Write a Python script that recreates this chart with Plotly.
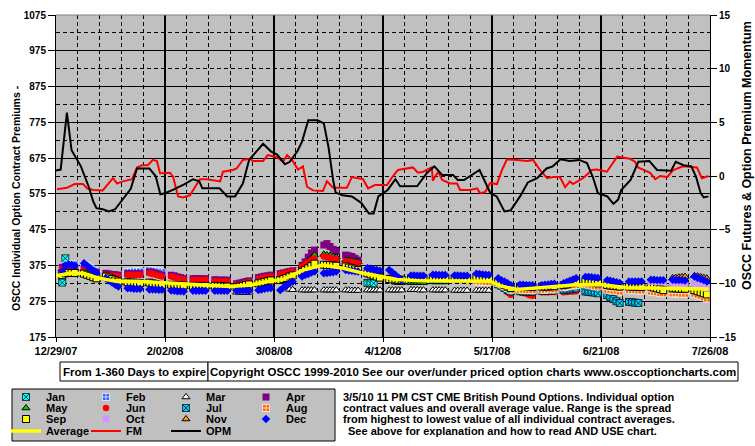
import numpy as np
import pandas as pd
import plotly.graph_objects as go

_ = None
START = pd.Timestamp("2007-12-29")
trade_dates = pd.bdate_range("2007-12-31", "2008-07-25")  # 150 trading days (30 weeks)

# ---------------- contract month premiums (left axis), one value per trading day ----------------
jan = [327, 395, _, _, _] + [_] * 65 + [326, 325, 325, _, _] + [_] * 75

feb = [370, 375, 377, 378, 378,
       376, 372, 368, 363, 358,
       350, 348, 346, 344, 343,
       357, 357, 358, 358, 358,
       362, 361, 360, 358, 356,
       348, 346, _, _, _] + [_] * 120

mar = [366, 368, 368, 367, 366,
       349, 346, 343, 339, 336,
       341, 338, 334, 330, 327,
       325, 324, 324, 323, 323,
       324, 322, 320, 318, 317,
       318, 317, 317, 316, 316,
       315, 315, 314, 314, 315,
       315, 314, 314, 313, 313,
       300, 300, 299, 299, 300,
       322, 324, 326, 328, 330,
       _, _, _, 308, 307,
       306, 306, 306, 306, 306,
       306, 306, 306, 306, 306,
       306, 306, 305, 305, 305,
       306, 306, 306, 306, 306,
       306, 306, 306, 306, 306,
       307, 307, 307, 306, 306,
       306, 306, 306, 306, 306,
       305, 305, 305, 305, 305,
       305, 305, 305, 305, 305,
       326, 324, _, _, _] + [_] * 45

apr = [370, 371, 371, 370, 370,
       366, 364, 361, 358, 356,
       353, 351, 350, 349, 348,
       352, 352, 352, 352, 352,
       357, 355, 353, 350, 348,
       348, 346, 343, 341, 338,
       338, 338, 338, 338, 338,
       335, 334, 334, 334, 334,
       324, 326, 328, 330, 332,
       341, 343, 345, 346, 348,
       352, 354, 356, 358, 360,
       375, 385, 398, 410, 418,
       432, 436, 428, 420, 414,
       404, 402, 400, 395, 390] + [_] * 80

may = [_] * 55 + [374, 380, 388, 396, 404,
                  406, 404, 402, 400, 398,
                  390, 389, 388, 386, 385] + [_] * 5 + [_, _, 328, 327, 327,
                                                        327, 327, 327, 327, 327,
                                                        329, 329, 329, 329, 329] + [_] * 60

jun = [366, 367, 367, 366, 366,
       362, 360, 357, 354, 352,
       348, 347, 346, 345, 344,
       348, 348, 348, 348, 348,
       353, 351, 349, 346, 344,
       344, 342, 339, 337, 334,
       334, 334, 334, 334, 334,
       331, 330, 330, 330, 330,
       320, 322, 324, 326, 328,
       337, 339, 341, 342, 344,
       350, 352, 354, 356, 358,
       372, 378, 384, 390, 395,
       400, 398, 396, 394, 392,
       386, 385, 384, 382, 381,
       356, 353, 350, 347, 345,
       341, 340, 339, 338, 338,
       342, 342, 341, 341, 341,
       344, 344, 343, 343, 343,
       342, 342, 341, 341, 341,
       346, 345, 343, 341, 340,
       330, 322, 312, 300, 293,
       300, 298, 296, 292, 290,
       300, 300, 300, 301, 301,
       300, 301, 302, 302, 303,
       302, 300, 299, 298, 297] + [_] * 25

jul = [_] * 100 + [322, 318, 312, 306, 302,
                   303, 302, 302, 302, 302,
                   304, 304, 305, 305, 305,
                   306, 307, 308, 310, 311,
                   302, 301, 300, 299, 297,
                   292, 287, 281, 275, 270,
                   273, 272, 271, 270, _] + [_] * 15

aug = [_] * 95 + [331, 330, 330, 329, 329,
                  326, 322, 317, 312, 307,
                  307, 307, 306, 306, 306,
                  307, 307, 308, 308, 308,
                  314, 316, 318, 319, 320,
                  322, 321, 319, 317, 316,
                  307, 306, 305, 304, 302,
                  306, 306, 306, 305, 305,
                  302, 301, 300, 298, 297,
                  297, 297, 297, 296, 296,
                  296, 293, 290, 286, 283]

sep = [348, 353, 354, 354, 354,
       352, 349, 346, 342, 339,
       344, 341, 337, 333, 330,
       328, 327, 327, 326, 326,
       327, 325, 323, 321, 320,
       321, 320, 320, 319, 319,
       318, 318, 317, 317, 318,
       318, 317, 317, 316, 316,
       314, 316, 318, 320, 322,
       325, 327, 329, 331, 333,
       334, 337, 340, 344, 347,
       357, 362, 367, 373, 380,
       377, 376, 376, 375, 374,
       372, 369, 367, 364, 362,
       353, 350, 347, 344, 341,
       337, 336, 336, 335, 335,
       339, 339, 338, 338, 338,
       341, 341, 340, 340, 340,
       339, 339, 338, 338, 338,
       343, 342, 340, 338, 337,
       330, 326, 321, 316, 312,
       316, 316, 316, 315, 315,
       316, 316, 316, 317, 317,
       320, 322, 325, 327, 330,
       330, 329, 328, 327, 325,
       320, 319, 318, 317, 316,
       316, 316, 316, 315, 315,
       316, 313, 311, 309, 306,
       311, 311, 310, 310, 310,
       306, 303, 300, 297, 294]

oct_ = [_] * 135 + [330, 330, 330, 329, 329,
                    321, 321, 320, 320, 320,
                    324, 321, 318, 315, 311]

nov = [_] * 140 + [340, 341, 342, 343, 344,
                   346, 345, 343, 341, 339]

dec = [358, 375, 378, 376, 374,
       381, 374, 367, 360, 353,
       339, 333, 327, 321, 316,
       311, 311, 310, 310, 310,
       308, 308, 308, 307, 307,
       305, 304, 303, 303, 302,
       304, 304, 304, 304, 304,
       304, 304, 304, 304, 304,
       305, 305, 305, 305, 305,
       306, 308, 310, 311, 312,
       306, 313, 319, 325, 330,
       344, 348, 351, 355, 358,
       353, 354, 355, 356, 358,
       362, 361, 360, 359, 358,
       367, 366, 364, 362, 360,
       362, 355, 348, 341, 334,
       347, 347, 346, 346, 346,
       349, 349, 348, 348, 348,
       347, 347, 346, 346, 346,
       352, 351, 350, 349, 348,
       339, 334, 330, 325, 320,
       321, 321, 320, 320, 320,
       320, 321, 322, 323, 324,
       325, 329, 332, 336, 339,
       343, 343, 342, 341, 340,
       334, 332, 330, 328, 326,
       330, 330, 330, 330, 330,
       335, 335, 334, 334, 334,
       335, 334, 334, 334, 333,
       344, 340, 337, 334, 330]

# ---------------- overall average (left axis): days after 12/29/07, value ----------------
avg_day = [0, 4.5, 8.7, 14, 19.6, 26, 33.4, 40.8, 49.5, 55.9, 62.3, 67.8, 72.9, 79.3, 85.7,
           92.2, 98.6, 105, 109.5, 116.9, 139.4, 142.6, 148, 155.4, 166, 174.7, 183.4,
           190.8, 209.5]
avg_val = [346, 353, 353, 339, 330, 331, 327, 323, 320, 316, 320, 330, 336, 362, 376,
           367, 353, 342, 336, 332, 331, 318, 308, 313, 320, 322, 313, 312, 309]

# ---------------- FM (red) and OPM (black) momentum (right axis) ----------------
fm_day = [0.3, 3.5, 6, 8.7, 10, 12, 15, 16.4, 18.3, 19.6, 21.5, 24.4, 26, 27.6, 29.5, 31.1,
          32.4, 33.4, 36.6, 37.6, 39.2, 40.8, 43, 46.2, 48.5, 52.7, 53.6, 56.8, 58, 60,
          62.3, 63.3, 66.5, 68, 71, 72.9, 74.2, 75.8, 77.7, 79.3, 80.6, 82.5, 85.7, 87,
          89, 93.4, 95, 98.6, 100.2, 102.4, 106.3, 108.2, 109.8, 114.6, 116.2, 117.9,
          120.7, 121, 122.7, 124, 126.5, 128.8, 129.7, 132.9, 135.2, 136.2, 137.8, 139.4,
          141.6, 143.2, 144.8, 148, 151.3, 153.2, 155.4, 157.7, 159.6, 161.8, 163.5, 165,
          166, 169.2, 172.1, 173.7, 176.9, 180.2, 184.3, 185.9, 186.9, 190.8, 192.4, 194,
          196.2, 198.2, 201.3, 205.8, 207.4, 209.5]
fm_val = [-1.24, -1.1, -0.75, -0.75, -1.15, -1.3, -1.34, -0.84, -0.2, -0.7, -0.5, -0.3, 0.8,
          1.0, 1.0, 1.5, 1.4, 0.25, 0.3, -0.06, -1.9, -2.0, -1.8, -0.3, -0.3, -0.5, 0.4,
          0.56, 0.7, 1.5, 1.6, 1.4, 1.4, 1.95, 1.75, 1.33, 1.95, 1.5, 0.6, 0.9, -1.0,
          -1.34, -1.4, -0.5, -1.1, -1.1, -0.1, -0.3, -1.15, -0.84, -0.84, 0.0, 0.56, 0.8,
          0.3, 0.4, 0.8, -0.44, 0.4, -0.37, -0.7, -0.7, -1.3, -1.3, -1.15, -1.6, -1.5,
          -0.65, -0.75, 0.56, 1.55, 1.5, 1.4, 1.5, 0.56, -0.2, -0.1, -0.1, -1.05, -0.5,
          -0.75, -0.2, 0.56, 0.6, 0.4, 1.8, 1.6, 1.33, 0.8, 0.3, -0.3, 0.0, -0.1, 0.56,
          0.9, 0.8, -0.2, 0.0]

opm_day = [0, 1.5, 3.5, 5, 8, 10.5, 12, 13, 15, 17, 19, 21, 24, 26, 30, 32, 33.5, 35, 37.5,
           41, 44, 46, 47, 52.5, 55, 57.5, 60, 62, 66.5, 69, 71, 73.5, 75, 77.5, 79, 81,
           84, 86, 87.5, 89, 89.8, 92, 95, 98, 100.5, 102, 103.5, 106.5, 109, 110.5, 116,
           119, 121.5, 124, 127.5, 129, 131, 136, 137.5, 139.5, 141.5, 144, 146, 149,
           151.5, 154.5, 157.5, 159.5, 162, 165, 168, 170.5, 172.5, 174, 177, 179, 180.5,
           181.5, 184.5, 187, 190.5, 193, 197.5, 199, 201.5, 204, 205.5, 207, 208, 209.5]
opm_val = [0.5, 0.6, 5.9, 2.4, 0.9, -1.0, -2.4, -3.0, -3.1, -3.3, -3.1, -2.3, -1.2, 0.7, 0.7,
           0.0, -1.7, -1.6, -1.3, -0.8, -0.3, -0.5, -1.15, -1.15, -1.9, -1.9, -0.7, 1.5,
           3.0, 2.3, 2.0, 1.1, 1.3, 2.3, 3.2, 5.2, 5.2, 4.9, 2.7, -0.4, -1.55, -1.8, -1.9,
           -2.5, -3.5, -3.5, -1.9, -1.3, -0.3, -0.95, -0.93, 0.25, 0.9, 0.1, 0.1, -0.37,
           -0.37, 0.56, -0.37, -1.6, -1.9, -3.3, -3.2, -1.9, -0.6, -0.2, 0.7, 0.9, 1.55,
           1.4, 1.5, 1.2, -0.2, -1.6, -1.9, -2.6, -2.2, -1.3, -0.37, 1.33, 1.4, 0.56, 0.5,
           1.33, 1.0, 0.9, -0.06, -1.6, -2.0, -1.9]

# ---------------- helpers ----------------
def day_to_date(days):
    return START + pd.to_timedelta(np.asarray(days, dtype=float), unit="D")

FONT = "Arial, 'Liberation Sans', sans-serif"
PLOT_L, PLOT_R, PLOT_T, PLOT_B = 56, 710, 15, 337
W, H = 755, 446


def px(xp):
    return (xp - PLOT_L) / (PLOT_R - PLOT_L)


def py(yp):
    return (PLOT_B - yp) / (PLOT_B - PLOT_T)


fig = go.Figure()

marker_series = [
    ("Jan", jan, dict(symbol="square-x", color="#00FFFF", size=7, line=dict(color="#000000", width=0.7)), "legend"),
    ("Feb", feb, dict(symbol="square-cross", color="#3366FF", size=7, line=dict(color="#FFFFFF", width=0.7)), "legend"),
    ("Mar", mar, dict(symbol="triangle-up", color="#FFFFFF", size=7, line=dict(color="#000000", width=1)), "legend"),
    ("Apr", apr, dict(symbol="square", color="#800080", size=7, line=dict(color="#800080", width=0)), "legend"),
    ("May", may, dict(symbol="triangle-up", color="#00CC00", size=7, line=dict(color="#000000", width=1)), "legend2"),
    ("Jun", jun, dict(symbol="circle", color="#FF0000", size=6.5, line=dict(color="#FF0000", width=0)), "legend2"),
    ("Jul", jul, dict(symbol="square-x", color="#00CCFF", size=7, line=dict(color="#000000", width=0.7)), "legend2"),
    ("Aug", aug, dict(symbol="square-cross", color="#FF6600", size=7, line=dict(color="#FFFFFF", width=0.7)), "legend2"),
    ("Sep", sep, dict(symbol="square", color="#FFFF00", size=7, line=dict(color="#000000", width=1)), "legend3"),
    ("Oct", oct_, dict(symbol="square", color="#CC99FF", size=7, line=dict(color="#CC99FF", width=0)), "legend3"),
    ("Nov", nov, dict(symbol="triangle-up", color="#FF9900", size=7, line=dict(color="#000000", width=1)), "legend3"),
    ("Dec", dec, dict(symbol="diamond", color="#0000FF", size=6.5, line=dict(color="#0000FF", width=0)), "legend3"),
]

for name, vals, mk, leg in marker_series:
    fig.add_trace(go.Scatter(x=trade_dates, y=vals, mode="markers", name=name, marker=mk,
                             legend=leg, yaxis="y"))

fig.add_trace(go.Scatter(x=day_to_date(avg_day), y=avg_val, mode="lines", name="Average",
                         line=dict(color="#FFFF00", width=3.5), legend="legend4", yaxis="y"))
fig.add_trace(go.Scatter(x=day_to_date(fm_day), y=fm_val, mode="lines", name="FM",
                         line=dict(color="#FF0000", width=2), legend="legend4", yaxis="y2"))
fig.add_trace(go.Scatter(x=day_to_date(opm_day), y=opm_val, mode="lines", name="OPM",
                         line=dict(color="#000000", width=2), legend="legend4", yaxis="y2"))

tickfont = dict(family=FONT, size=10, color="black", weight="bold")
DAY_MS = 86400000

leg_x = px(6)
row_y = [397, 408, 419, 431]


def legend_cfg(yp):
    return dict(orientation="h", x=leg_x, xanchor="left", y=py(yp), yanchor="middle",
                bgcolor="rgba(0,0,0,0)", borderwidth=0, entrywidth=35, entrywidthmode="pixels",
                itemwidth=30, tracegroupgap=0,
                font=dict(family=FONT, size=11, color="black", weight="bold"))


fig.update_layout(
    width=W, height=H,
    margin=dict(l=PLOT_L, r=W - PLOT_R, t=PLOT_T, b=H - PLOT_B, autoexpand=False),
    paper_bgcolor="white", plot_bgcolor="#C0C0C0",
    showlegend=True,
    legend=legend_cfg(row_y[0]),
    legend2=legend_cfg(row_y[1]),
    legend3=legend_cfg(row_y[2]),
    legend4=legend_cfg(row_y[3]),
    xaxis=dict(type="date", range=["2007-12-29", "2008-07-26"], tick0="2007-12-29",
               dtick=35 * DAY_MS, tickformat="%-m/%d/%y", ticks="outside", ticklen=4,
               tickcolor="black", showgrid=True, gridcolor="black", gridwidth=2,
               showline=True, linecolor="black", linewidth=1, zeroline=False,
               tickfont=dict(family=FONT, size=11, color="black", weight="bold"),
               minor=dict(tick0="2007-12-29", dtick=7 * DAY_MS, showgrid=True,
                          gridcolor="black", gridwidth=1, griddash="4px,3px")),
    yaxis=dict(range=[175, 1075], tick0=175, dtick=100, ticks="outside", ticklen=7,
               tickcolor="black", showgrid=True, gridcolor="black", gridwidth=1,
               showline=True, linecolor="black", linewidth=1, zeroline=False,
               tickfont=tickfont,
               minor=dict(tick0=175, dtick=50, showgrid=True, gridcolor="black",
                          gridwidth=1, griddash="4px,3px")),
    yaxis2=dict(range=[-15, 15], tick0=-15, dtick=5, overlaying="y", side="right",
                ticks="outside", ticklen=6, tickcolor="black", showgrid=False,
                showline=True, linecolor="black", linewidth=1, zeroline=False,
                tickfont=tickfont),
)

shapes = [
    dict(type="line", xref="paper", yref="paper", x0=0, x1=1, y0=1, y1=1,
         line=dict(color="#808080", width=1), layer="above"),
    dict(type="rect", xref="paper", yref="paper", x0=px(12), x1=px(335), y0=py(441), y1=py(389),
         fillcolor="#C0C0C0", line=dict(color="black", width=1), layer="below"),
    dict(type="rect", xref="paper", yref="paper", x0=px(60), x1=px(208), y0=py(381), y1=py(362),
         fillcolor="white", line=dict(color="black", width=1), layer="below"),
    dict(type="rect", xref="paper", yref="paper", x0=px(208), x1=px(738), y0=py(381), y1=py(362),
         fillcolor="white", line=dict(color="black", width=1), layer="below"),
]
fig.update_layout(shapes=shapes)

box_font = dict(family=FONT, size=11.5, color="black", weight="bold")
annotations = [
    dict(text="OSCC Individual Option Contract Premiums -", x=px(16), y=py(198), textangle=-90,
         font=dict(family=FONT, size=10.5, color="black", weight="bold")),
    dict(text="OSCC Futures &amp; Option Premium Momentum", x=px(747), y=py(156), textangle=-90,
         font=dict(family=FONT, size=12.5, color="black", weight="bold")),
    dict(text="From 1-360 Days to expire", x=px(134), y=py(371.5), font=box_font),
    dict(text="Copyright OSCC 1999-2010 See our over/under priced option charts www.osccoptioncharts.com",
         x=px(473), y=py(371.5), font=box_font),
]
desc_lines = [
    ("3/5/10 11 PM CST CME British Pound Options. Individual option", 341, 397),
    ("contract values and overall average value. Range is the spread", 341, 408),
    ("from highest to lowest value of all individual contract averages.", 341, 419),
    ("See above for explanation and how to read AND USE chart.", 346, 431),
]
for txt, xp, yp in desc_lines:
    annotations.append(dict(text=txt, x=px(xp), y=py(yp), xanchor="left",
                            font=dict(family=FONT, size=11, color="black", weight="bold")))

for a in annotations:
    a.setdefault("xanchor", "center")
    a.update(xref="paper", yref="paper", showarrow=False, yanchor="middle")
fig.update_layout(annotations=annotations)

fig.write_html("out.html", config={"displayModeBar": False},
               post_script="document.body.style.margin='0';document.body.style.overflow='hidden';")
